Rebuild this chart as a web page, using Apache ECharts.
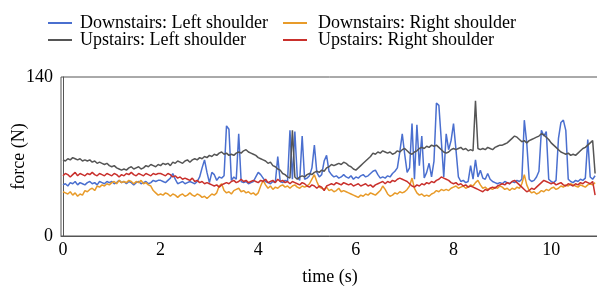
<!DOCTYPE html>
<html>
<head>
<meta charset="utf-8">
<script src="https://cdn.jsdelivr.net/npm/echarts@6/dist/echarts.min.js"></script>
<style>html,body{margin:0;padding:0;background:#fff}#c{width:597px;height:287px}</style>
</head>
<body>
<div id="c"></div>
<script>
// sampling step (s) of every series
const DT = 0.05;
const xTicks = [0, 2, 4, 6, 8, 10];
const yTicks = [0, 140];

// Downstairs: Left shoulder
const downLeft = [
45,46,44,47,46,48,45,47,46,45,47,48,46,47,45,48,47,46,48,47,
48,46,47,49,47,48,46,48,47,45,47,48,46,47,48,46,47,49,48,49,
49,48,47,49,51,55,50,46,47,48,46,47,48,47,46,48,52,60,67,56,
47,56,54,49,52,51,53,97,94,49,52,50,90,48,47,48,46,47,48,52,
56,54,51,48,47,46,48,47,70,48,47,49,48,93,50,92,52,49,88,50,
51,53,60,80,56,52,54,66,71,57,54,52,53,51,52,54,52,51,53,50,
52,51,53,54,52,53,55,57,58,54,51,52,51,53,52,55,57,60,74,90,
72,56,60,99,50,98,62,88,51,56,64,52,66,117,115,84,52,90,76,84,
99,76,52,48,49,47,48,62,50,67,52,58,51,50,55,50,48,47,46,47,
46,48,47,46,48,47,49,48,50,102,82,50,48,49,52,57,93,88,92,50,
48,47,49,86,100,102,93,50,48,47,49,48,50,49,51,85,52,50,53
];
// Downstairs: Right shoulder
const downRight = [
39,38,37,39,36,38,35,37,36,40,39,41,42,40,44,43,45,44,46,45,
47,48,46,49,47,48,47,49,48,46,48,47,49,46,47,45,44,40,38,36,
37,36,38,37,35,37,36,34,36,37,35,36,38,36,35,37,36,34,35,33,
35,37,36,38,44,46,40,38,39,37,40,41,42,39,40,38,39,37,38,36,
38,44,49,45,42,44,41,43,42,44,45,43,44,42,44,45,43,42,44,43,
44,46,50,54,48,43,42,41,43,40,41,39,40,42,39,40,39,38,37,36,
35,34,36,35,37,36,38,37,36,38,40,44,41,37,35,36,38,37,39,38,
39,41,44,51,42,38,36,37,35,36,35,37,38,40,39,41,40,41,40,42,
43,44,42,43,44,42,43,45,44,47,49,45,42,43,41,42,41,43,42,44,
43,41,42,40,42,41,43,42,46,54,45,40,38,39,37,38,40,39,41,40,
42,43,41,42,44,43,45,44,46,45,44,43,45,44,43,45,46,45,47
];
// Upstairs: Left shoulder
const upLeft = [
67,66,68,67,69,68,67,68,66,67,66,67,65,66,64,65,64,63,64,62,
61,62,60,59,58,59,58,60,61,59,60,61,59,60,62,61,63,62,61,63,
62,64,63,64,62,65,64,66,65,64,66,67,65,67,68,67,69,68,70,69,
71,70,72,71,73,74,72,73,71,72,71,73,74,73,75,76,74,73,72,71,
69,68,67,66,64,65,62,61,59,58,55,54,52,51,93,52,50,52,53,52,
54,55,54,56,57,56,58,57,60,61,63,62,63,64,63,65,64,62,61,59,
58,60,62,64,66,68,70,73,72,74,73,75,74,73,74,72,73,75,74,76,
77,75,73,72,74,75,77,78,77,79,78,80,79,80,78,76,74,73,74,76,
77,76,77,78,76,77,75,76,75,119,77,76,77,76,78,77,76,78,79,80,
80,81,82,84,86,88,87,85,83,84,82,84,85,86,87,88,90,89,87,85,
82,80,78,76,74,73,72,73,71,72,71,73,75,77,78,80,82,84,55
];
// Upstairs: Right shoulder
const upRight = [
53,55,54,52,54,56,53,55,54,53,55,54,56,54,53,55,54,53,55,54,
53,55,54,52,54,53,55,54,56,54,53,55,54,53,55,54,53,55,54,55,
55,54,53,55,54,52,53,51,52,50,51,50,49,51,48,49,47,48,46,47,
46,45,44,45,43,45,46,47,46,48,49,47,48,50,48,49,47,48,49,48,
47,49,48,50,47,48,49,47,50,48,49,47,48,46,48,47,46,45,47,46,
44,43,45,44,42,44,43,40,44,45,46,45,47,46,45,47,46,45,46,44,
45,46,44,45,46,44,45,43,45,46,47,48,46,48,47,49,48,50,51,50,
49,48,46,44,43,45,44,46,45,47,46,48,47,49,50,52,51,50,49,47,
46,47,45,46,44,45,43,44,43,42,41,40,39,41,40,42,43,42,44,45,
46,45,47,46,48,49,47,45,43,41,39,40,42,41,43,45,47,49,48,47,
46,47,45,46,47,45,44,46,45,44,46,45,47,46,48,47,46,48,36
];

const names = ['Downstairs: Left shoulder', 'Upstairs: Left shoulder', 'Downstairs: Right shoulder', 'Upstairs: Right shoulder'];
const colors = ['#4a6fcf', '#555555', '#e89b2a', '#c9302c'];
const seriesValues = [downLeft, upLeft, downRight, upRight];

const pairs = vals => vals.map((v, i) => [+(i * DT).toFixed(2), v]);
const FONT = 'Liberation Serif';

const legendBase = {
  orient: 'vertical', top: 13, padding: 0,
  itemWidth: 24, itemHeight: 2, itemGap: -3, icon: 'rect',
  textStyle: {fontFamily: FONT, fontSize: 18, color: '#000', lineHeight: 20}
};

const chart = echarts.init(document.getElementById('c'), null, {renderer: 'canvas'});
chart.setOption({
  animation: false,
  backgroundColor: '#fff',
  textStyle: {fontFamily: FONT},
  legend: [
    Object.assign({}, legendBase, {data: [names[0], names[1]], left: 48,
      textStyle: Object.assign({}, legendBase.textStyle, {padding: [0, 0, 0, 3]})}),
    Object.assign({}, legendBase, {data: [names[2], names[3]], left: 283,
      textStyle: Object.assign({}, legendBase.textStyle, {padding: [0, 0, 0, 6]})})
  ],
  grid: {left: 61, right: -2, top: 77, bottom: 51, show: true, borderColor: '#555', borderWidth: 1, outerBoundsMode: 'none'},
  xAxis: {
    type: 'value', min: -0.04, max: 10.98,
    name: 'time (s)', nameLocation: 'middle', nameGap: 32, nameMoveOverlap: false,
    nameTextStyle: {fontFamily: FONT, fontSize: 18, color: '#000'},
    axisLine: {show: true, lineStyle: {color: '#555', width: 1}},
    axisTick: {show: false},
    splitLine: {show: false},
    axisLabel: {customValues: xTicks, fontFamily: FONT, fontSize: 18, color: '#000', margin: 5, formatter: v => String(v)}
  },
  yAxis: {
    type: 'value', min: 0, max: 140,
    name: 'force (N)', nameLocation: 'middle', nameGap: 33, nameMoveOverlap: false,
    nameTextStyle: {fontFamily: FONT, fontSize: 18, color: '#000'},
    axisLine: {show: true, lineStyle: {color: '#555', width: 1}},
    axisTick: {show: false},
    splitLine: {show: false},
    axisLabel: {customValues: yTicks, fontFamily: FONT, fontSize: 18, color: '#000', margin: 8}
  },
  series: names.map((n, k) => ({
    name: n, type: 'line', data: pairs(seriesValues[k]),
    symbol: 'none', lineStyle: {color: colors[k], width: 1.5}, itemStyle: {color: colors[k]},
    emphasis: {disabled: true}
  }))
});
</script>
</body>
</html>
